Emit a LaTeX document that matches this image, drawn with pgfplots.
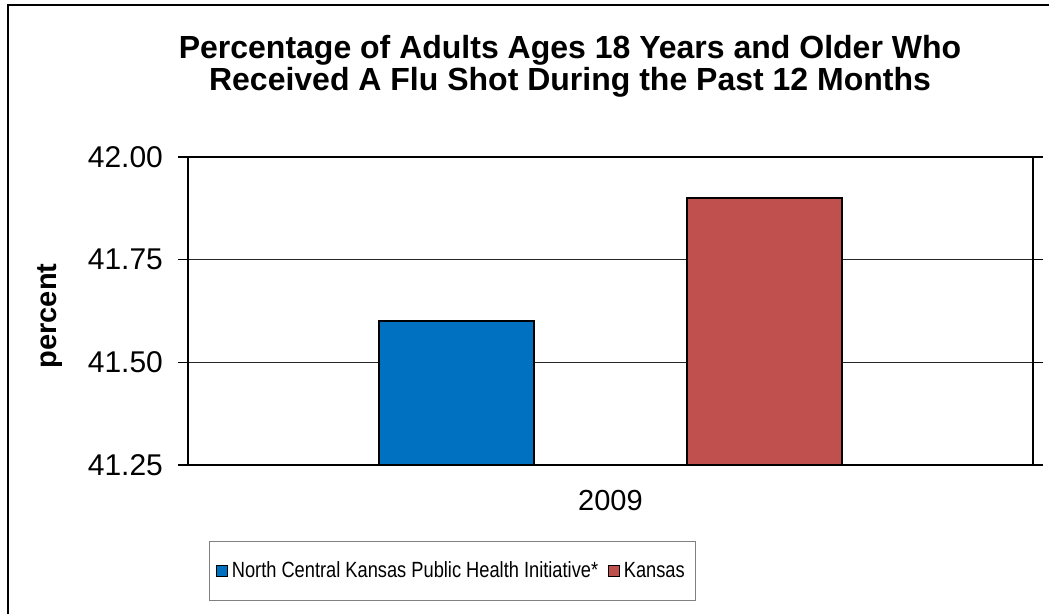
\documentclass[border=0pt]{standalone}
\usepackage{pgfplots}
\pgfplotsset{compat=1.18}
\usepackage{fontspec}
\setmainfont{Liberation Sans}
\newfontfamily\narrowfont{Liberation Sans}[FakeStretch=0.83]
\definecolor{ncblue}{RGB}{0,112,192}
\definecolor{ksred}{RGB}{192,80,77}
\begin{document}
\begin{tikzpicture}
\path[use as bounding box] (0,0) rectangle (524.5pt,307pt);
\draw[line width=0.7pt] (4pt,-10pt) -- (4pt,304.5pt) -- (540pt,304.5pt);
\node[align=center, font=\fontsize{16}{16}\selectfont\bfseries] at (285pt,274pt)
  {Percentage of Adults Ages 18 Years and Older Who\\Received A Flu Shot During the Past 12 Months};
\begin{axis}[
  at={(94pt,74.5pt)}, anchor=south west,
  width=422.5pt, height=154pt, scale only axis,
  ybar, bar width=77.5pt,
  xmin=0, xmax=2, ymin=41.25, ymax=42,
  xtick={1}, xticklabels={2009},
  xtick style={draw=none},
  ytick={41.25,41.5,41.75,42},
  yticklabel style={/pgf/number format/fixed, /pgf/number format/precision=2,
    /pgf/number format/fixed zerofill, /pgf/number format/assume math mode=true,
    font=\fontsize{15}{16}\selectfont, xshift=-4pt},
  xticklabel style={font=\fontsize{14.5}{16}\selectfont, yshift=-4pt},
  y tick style={black, line width=0.6pt},
  tick align=outside, major tick length=5pt,
  ymajorgrids, grid style={black!85, line width=0.5pt},
  axis line style={black, line width=1pt},
  ylabel={percent},
  every axis y label/.style={at={(axis description cs:-0.1633,0.484)}, rotate=90, anchor=center,
    font=\fontsize{14.5}{16}\selectfont\bfseries},
  legend columns=2,
  legend style={at={(axis description cs:0.313,-0.344)}, anchor=center,
    draw=gray, line width=0.5pt, font=\narrowfont\fontsize{11}{13}\selectfont,
    inner xsep=3.5pt, inner ysep=8pt, /tikz/every even column/.append style={column sep=3pt}},
  legend image code/.code={\draw[#1, draw=black, line width=0.6pt, bar shift=0pt] (0pt,-2.6pt) rectangle (5.2pt,2.6pt);},
]
\addplot[fill=ncblue, draw=black, line width=1pt, bar shift=-77pt] coordinates {(1,41.6)};
\addplot[fill=ksred, draw=black, line width=1pt, bar shift=77pt] coordinates {(1,41.9)};
\legend{North Central Kansas Public Health Initiative*, Kansas}
\end{axis}
\end{tikzpicture}
\end{document}
